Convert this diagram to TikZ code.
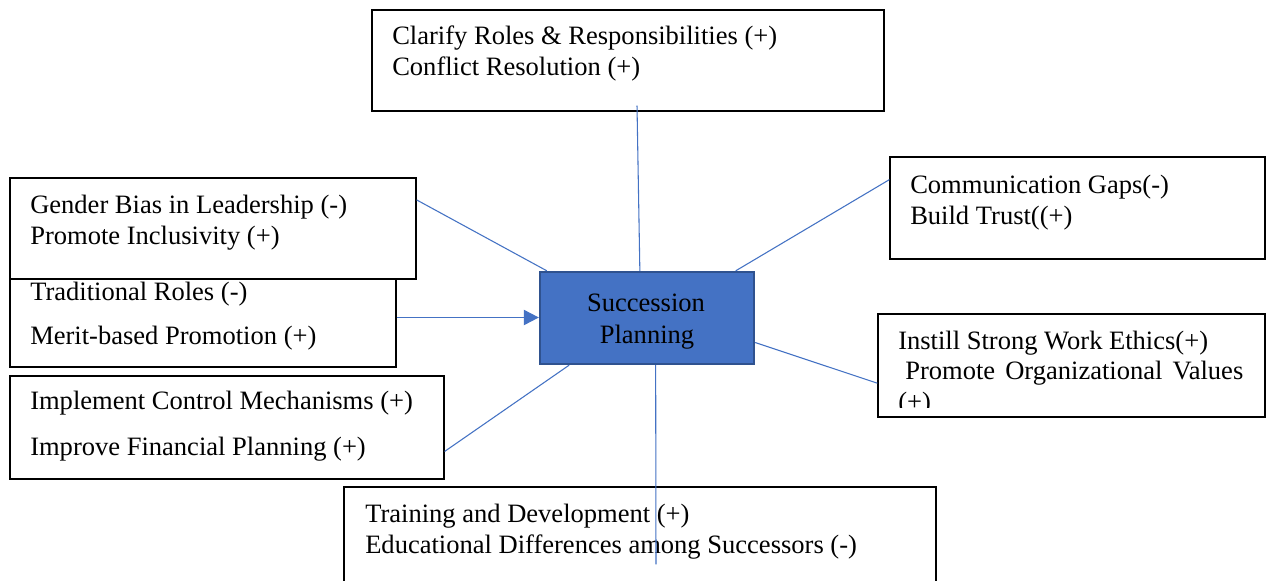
\documentclass[tikz,border=0pt]{standalone}
\usepackage{fontspec}
\setmainfont{Liberation Serif}
\usetikzlibrary{arrows.meta,calc}
\definecolor{linkblue}{HTML}{4472C4}
\definecolor{hubfill}{HTML}{4472C4}
\definecolor{hubedge}{HTML}{2F528F}
\begin{document}
\begin{tikzpicture}[x=0.75pt,y=-0.75pt,
  box/.style={draw=black,line width=0.9pt,fill=white,rectangle,inner sep=0pt},
  hub/.style={draw=hubedge,line width=1.8pt,fill=hubfill,rectangle,inner sep=0pt},
  txt/.style={anchor=base west,inner sep=0pt,font=\fontsize{19.9}{24}\selectfont},
  hubtxt/.style={anchor=base,inner sep=0pt,font=\fontsize{19.9}{24}\selectfont},
  link/.style={draw=linkblue,line width=0.8pt}]
\clip (0,0) rectangle (1266,581);
\fill[white] (0,0) rectangle (1266,581);

% factor boxes
\node[box,minimum width=384pt,minimum height=75.75pt] (roles) at (628,60.5) {};
\node[box,minimum width=281.25pt,minimum height=76.5pt] (comm) at (1077.5,208) {};
\node[box,minimum width=289.5pt,minimum height=74.25pt] (trad) at (203,317.5) {};
\node[box,minimum width=304.5pt,minimum height=75.75pt] (gender) at (213,228.5) {};
\node[box,minimum width=325.5pt,minimum height=77.25pt] (control) at (227,427.5) {};
\node[box,minimum width=290.25pt,minimum height=77.25pt] (ethics) at (1071.5,365.5) {};
\node[box,minimum width=444pt,minimum height=99.75pt] (training) at (640,553.5) {};

% box texts
\node[txt] (rolesA) at (392,45) {Clarify Roles \& Responsibilities (+)};
\node[txt] (rolesB) at (392,76) {Conflict Resolution (+)};
\node[txt] (commA) at (910,193) {Communication Gaps(-)};
\node[txt] (commB) at (910,224) {Build Trust((+)};
\node[txt] (genderA) at (30,213) {Gender Bias in Leadership (-)};
\node[txt] (genderB) at (30,244) {Promote Inclusivity (+)};
\node[txt] (tradA) at (30,300) {Traditional Roles (-)};
\node[txt] (tradB) at (30,344) {Merit-based Promotion (+)};
\node[txt] (controlA) at (30,409) {Implement Control Mechanisms (+)};
\node[txt] (controlB) at (30,455) {Improve Financial Planning (+)};
\node[txt] (ethicsA) at (898,349) {Instill Strong Work Ethics(+)};
\node[txt] (ethicsB) at (905,379) {\hbox to 253.5pt{Promote\hfill Organizational\hfill Values}};
\begin{scope}
  \clip (878,314) rectangle (1265,407);
  \node[txt] (ethicsC) at (898,410) {(+)};
\end{scope}
\node[txt] (trainA) at (365,522) {Training and Development (+)};
\node[txt] (trainB) at (365,553) {Educational Differences among Successors (-)};

% central node
\node[hub,minimum width=160.5pt,minimum height=69pt] (hubbox) at (647,318) {};

% connectors
\draw[link] ($(roles.south)+(9,-6)$) -- ($(hubbox.north west)!0.467!(hubbox.north east)$);
\draw[link] ($(comm.north west)!0.225!(comm.south west)$) -- ($(hubbox.north west)!0.91!(hubbox.north east)$);
\draw[link] ($(gender.north east)!0.22!(gender.south east)$) -- ($(hubbox.north west)!0.037!(hubbox.north east)$);
\draw[link,-{Triangle[length=11.25pt,width=11.5pt]}] (trad.east) -- (hubbox.west |- trad.east);
\draw[link] ($(control.north east)!0.73!(control.south east)$) -- ($(hubbox.south west)!0.14!(hubbox.south east)$);
\draw[link] ($(hubbox.north east)!0.76!(hubbox.south east)$) -- ($(ethics.north west)!0.67!(ethics.south west)$);
\draw[link] ($(hubbox.south west)!0.54!(hubbox.south east)$) -- ($(training.north)+(16,78)$);

% central label
\node[hubtxt] (hubA) at (646,311) {Succession};
\node[hubtxt] (hubB) at (647,343) {Planning};
\end{tikzpicture}
\end{document}
